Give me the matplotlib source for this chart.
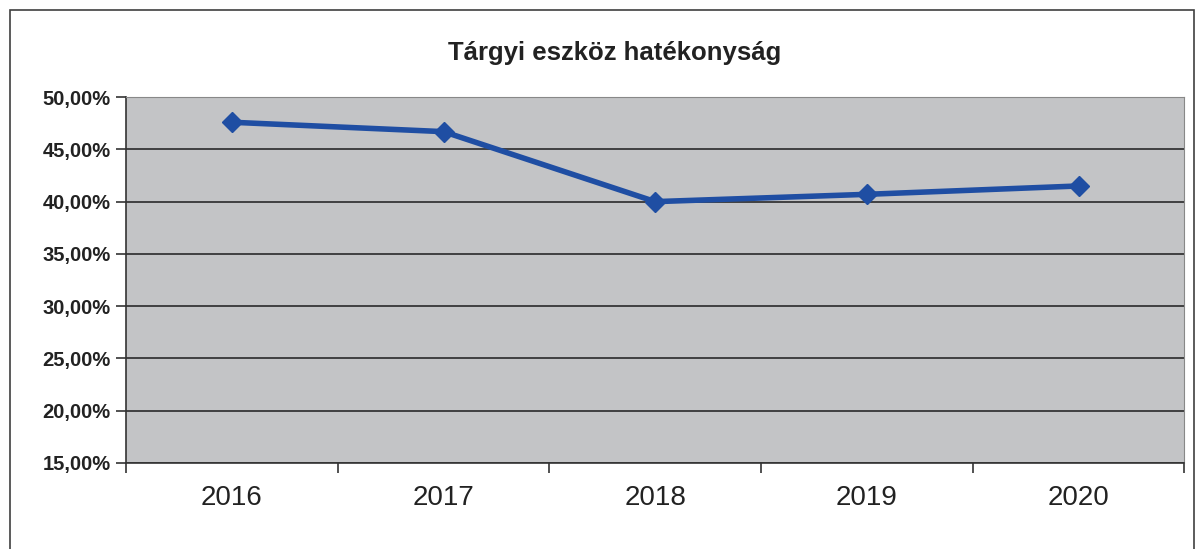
import matplotlib
matplotlib.use("Agg")
import matplotlib.pyplot as plt
from matplotlib.patches import Rectangle
from matplotlib.ticker import FixedLocator, FuncFormatter
import numpy as np

# data
years = ["2016", "2017", "2018", "2019", "2020"]
efficiency = [47.6, 46.7, 40.0, 40.7, 41.5]  # percent
y_ticks = [15, 20, 25, 30, 35, 40, 45, 50]
title = "Tárgyi eszköz hatékonyság"

plt.rcParams['font.family'] = ['Liberation Sans', 'DejaVu Sans']

fig = plt.figure(figsize=(12, 5.49), dpi=100)
ax = fig.add_axes([0.105, 0.157, 0.882, 0.666])

# outer chart border (bottom edge runs off the picture)
fig.patches.append(Rectangle((0.008, -0.05), 0.987, 1.032, transform=fig.transFigure,
                             fill=False, edgecolor='#404040', linewidth=1.2))

ax.set_facecolor('#c3c4c6')
x = np.arange(len(years))
ax.plot(x, efficiency, color='#1f4ea3', linewidth=4, marker='D', markersize=10,
        markerfacecolor='#1f4ea3', markeredgecolor='#1f4ea3', zorder=3)

ax.set_xlim(-0.5, len(years) - 0.5)
ax.set_ylim(15, 50)
ax.set_yticks(y_ticks)
ax.yaxis.set_major_formatter(FuncFormatter(lambda v, p: f"{v:.2f}%".replace('.', ',')))
ax.yaxis.grid(True, color='#2a2a2a', linewidth=1.2)
ax.set_axisbelow(True)

ax.set_xticks(x)
ax.set_xticklabels(years)
ax.xaxis.set_minor_locator(FixedLocator(np.arange(-0.5, len(years), 1.0)))
ax.tick_params(axis='x', which='major', length=0, labelsize=20, pad=16, labelcolor='#222222')
ax.tick_params(axis='x', which='minor', length=7, width=1.2, color='#333333')
ax.tick_params(axis='y', length=7, width=1.2, color='#333333', labelsize=14.5, pad=4,
               labelcolor='#222222')
for lbl in ax.get_yticklabels():
    lbl.set_fontweight('bold')

for side in ['left', 'bottom']:
    ax.spines[side].set_color('#333333')
    ax.spines[side].set_linewidth(1.2)
ax.spines['top'].set_color('#888888')
ax.spines['right'].set_color('#888888')

fig.text(0.512, 0.903, title, ha='center', va='center', fontsize=18.5, fontweight='bold',
         color='#222222')

fig.savefig('out.png', dpi=100)
